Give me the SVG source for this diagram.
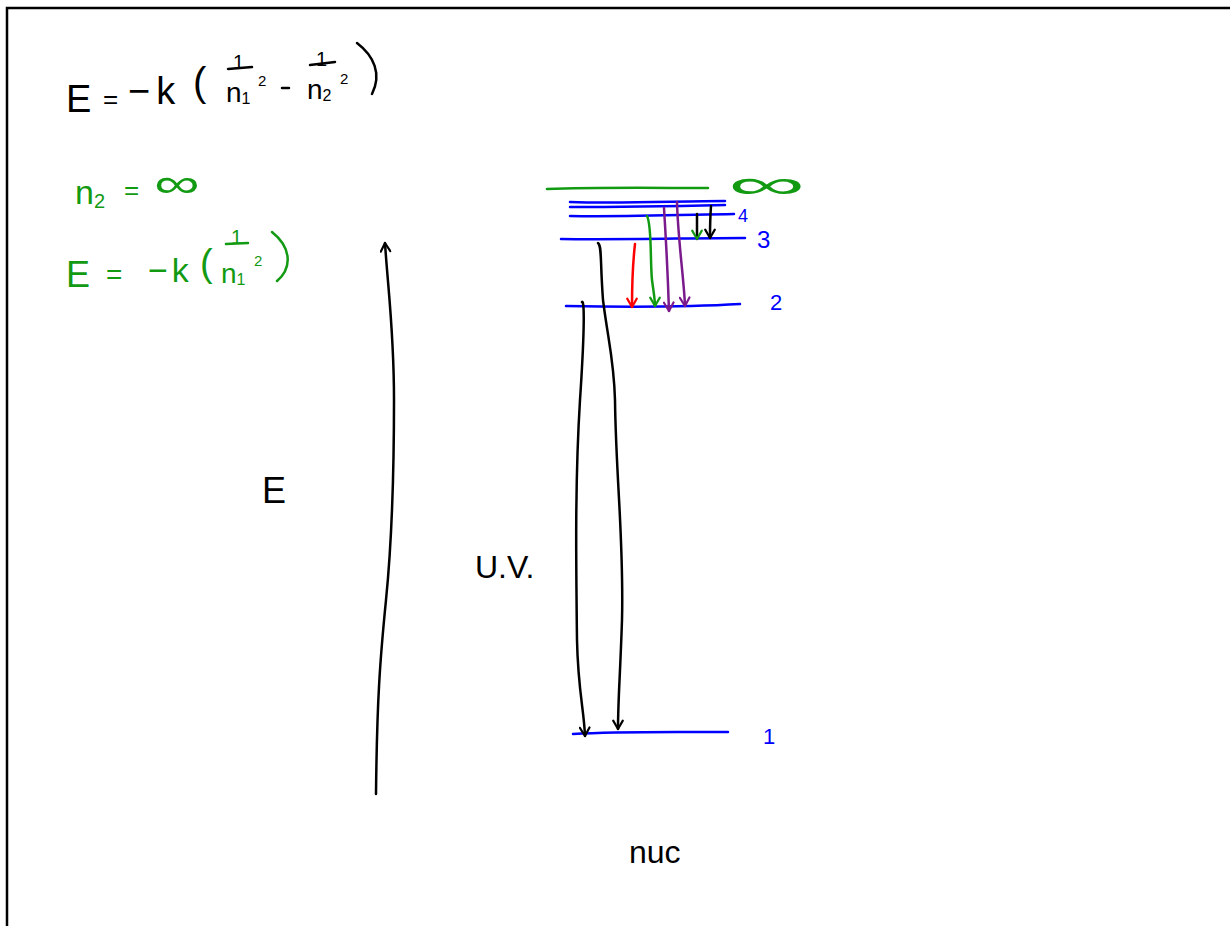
<svg xmlns="http://www.w3.org/2000/svg" width="1230" height="926" viewBox="0 0 1230 926">
<style>
.ink{fill:none;stroke-linecap:round;stroke-linejoin:round;stroke-width:2.5}
.k{stroke:#000}.b{stroke:#0000ff}.g{stroke:#129a12}.r{stroke:#ff0000}.p{stroke:#7a1a8c}
.t{font-family:"Liberation Sans",Arial,sans-serif}
.tk{fill:#000}.tb{fill:#0000ff}.tg{fill:#129a12}
</style>
<defs>
<marker id="ak" viewBox="0 0 10 10" refX="9" refY="5" markerWidth="12" markerHeight="12" markerUnits="userSpaceOnUse" orient="auto"><path d="M2,1 L9,5 L2,9" fill="none" stroke="#000" stroke-width="1.8" stroke-linecap="round" stroke-linejoin="round"/></marker>
<marker id="ar" viewBox="0 0 10 10" refX="9" refY="5" markerWidth="12" markerHeight="12" markerUnits="userSpaceOnUse" orient="auto"><path d="M2,1 L9,5 L2,9" fill="none" stroke="#ff0000" stroke-width="1.8" stroke-linecap="round" stroke-linejoin="round"/></marker>
<marker id="ag" viewBox="0 0 10 10" refX="9" refY="5" markerWidth="12" markerHeight="12" markerUnits="userSpaceOnUse" orient="auto"><path d="M2,1 L9,5 L2,9" fill="none" stroke="#129a12" stroke-width="1.8" stroke-linecap="round" stroke-linejoin="round"/></marker>
<marker id="ap" viewBox="0 0 10 10" refX="9" refY="5" markerWidth="12" markerHeight="12" markerUnits="userSpaceOnUse" orient="auto"><path d="M2,1 L9,5 L2,9" fill="none" stroke="#7a1a8c" stroke-width="1.8" stroke-linecap="round" stroke-linejoin="round"/></marker>
</defs>
<rect width="1230" height="926" fill="#fff"/>
<path d="M7,926 V8 H1230" fill="none" stroke="#000" stroke-width="2.5"/>

<g id="formula-general">
<text class="t tk" x="66" y="112" font-size="38">E</text>
<text class="t tk" x="103" y="108" font-size="26">=</text>
<text class="t tk" x="128" y="104" font-size="38" letter-spacing="6">−k</text>
<text class="t tk" x="193" y="96" font-size="40">(</text>
<text class="t tk" x="233" y="69" font-size="20">1</text>
<path class="ink k" d="M228,69 L252,67"/>
<text class="t tk" x="226" y="102" font-size="28">n<tspan font-size="16" dy="2">1</tspan></text>
<text class="t tk" x="258" y="86" font-size="15">2</text>
<path class="ink k" d="M282,88 L289,88"/>
<text class="t tk" x="316" y="66" font-size="20">1</text>
<path class="ink k" d="M310,65 L335,62"/>
<text class="t tk" x="307" y="99" font-size="28">n<tspan font-size="16" dy="2">2</tspan></text>
<text class="t tk" x="340" y="84" font-size="15">2</text>
<path class="ink k" d="M357,43 C374,56 382,74 372,94"/>
</g>

<g id="formula-infinity">
<text class="t tg" x="75" y="204" font-size="34">n<tspan font-size="20" dy="4">2</tspan></text>
<text class="t tg" x="124" y="199" font-size="26">=</text>
<text class="t tg" transform="translate(154,197) scale(1.6,1)" font-size="40">∞</text>
<text class="t tg" x="66" y="287" font-size="36">E</text>
<text class="t tg" x="106" y="284" font-size="28">=</text>
<text class="t tg" x="148" y="282" font-size="34" letter-spacing="4">−k</text>
<text class="t tg" x="200" y="276" font-size="38">(</text>
<text class="t tg" x="231" y="244" font-size="20">1</text>
<path class="ink g" d="M226,244 L248,243"/>
<text class="t tg" x="221" y="283" font-size="28">n<tspan font-size="16" dy="2">1</tspan></text>
<text class="t tg" x="254" y="266" font-size="15">2</text>
<path class="ink g" d="M272,232 C292,248 292,268 277,281"/>
</g>

<g id="energy-axis">
<path class="ink k" d="M376,794 C377,700 380,660 386,600 C392,540 394,480 394,400 C394,330 388,290 385,243" marker-end="url(#ak)"/>
<text class="t tk" x="262" y="503" font-size="36">E</text>
</g>

<g id="level-inf">
<path class="ink g" d="M547,189 C600,187 660,188 708,188"/>
<text class="t tg" transform="translate(728,198) scale(2.7,1)" font-size="40">∞</text>
</g>
<g id="level-5">
<path class="ink b" d="M570,202 C620,204 680,201 725,201"/>
<path class="ink b" d="M570,207 C620,207 680,206 725,205"/>
</g>
<g id="level-4">
<path class="ink b" d="M570,216 C620,217 680,215 734,214"/>
<text class="t tb" x="738" y="222" font-size="18">4</text>
</g>
<g id="level-3">
<path class="ink b" d="M561,239 C620,240 690,238 745,238"/>
<text class="t tb" x="757" y="248" font-size="24">3</text>
</g>
<g id="level-2">
<path class="ink b" d="M566,306 C620,307 690,307 740,304"/>
<text class="t tb" x="770" y="310" font-size="22">2</text>
</g>
<g id="level-1">
<path class="ink b" d="M573,734 C620,731 680,732 728,732"/>
<text class="t tb" x="763" y="744" font-size="22">1</text>
</g>

<g id="labels">
<text class="t tk" x="475" y="578" font-size="32">U.V.</text>
<text class="t tk" x="629" y="863" font-size="32">nuc</text>
</g>

<g id="connectors">
<path class="ink r" d="M635,244 C632,270 632,290 632,307" marker-end="url(#ar)"/>
<path class="ink g" d="M647,216 C652,225 650,260 652,280 C654,295 655,300 655,306" marker-end="url(#ag)"/>
<path class="ink p" d="M664,208 C666,240 668,280 669,311" marker-end="url(#ap)"/>
<path class="ink p" d="M677,202 C678,240 684,280 685,306" marker-end="url(#ap)"/>
<path class="ink k" d="M697,214 L697,239" marker-end="url(#ag)"/>
<path class="ink k" d="M711,206 C710,220 710,230 710,238" marker-end="url(#ak)"/>
<path class="ink k" d="M598,243 C602,246 600,260 603,300 C608,340 614,360 615,400 C616,480 624,540 622,620 C620,680 618,700 618,729" marker-end="url(#ak)"/>
<path class="ink k" d="M582,302 C585,300 584,340 580,400 C575,480 576,560 577,640 C578,690 584,710 585,736" marker-end="url(#ak)"/>
</g>
</svg>
